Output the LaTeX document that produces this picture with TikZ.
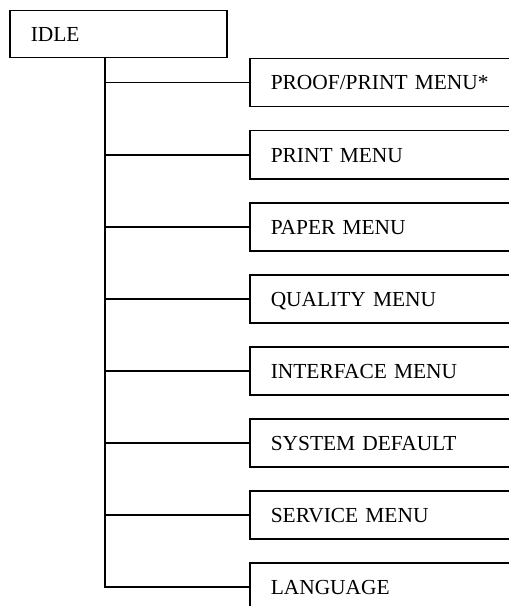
\documentclass[tikz,border=0pt]{standalone}
\usepackage{fontspec}
\setmainfont{Liberation Serif}
\usetikzlibrary{positioning}

\begin{document}
\begin{tikzpicture}[x=1bp, y=-1bp,
  menubox/.style={draw, line width=1.5bp, anchor=north west,
                  minimum height=48bp, text width=290bp, align=left,
                  inner xsep=21bp, text height=14.5bp, text depth=0pt,
                  font=\fontsize{21.5}{24}\selectfont},
  branch/.style={line width=1.5bp}
]
\useasboundingbox (0,0) rectangle (509,606);
\clip (0,0) rectangle (509,606);
\node[menubox, minimum height=47bp, text width=175bp] (idle) at (9,10) {IDLE};
\node[menubox] (m1) at (249,58)  {PROOF/PRINT MENU*};
\node[menubox] (m2) at (249,130) {PRINT MENU};
\node[menubox] (m3) at (249,202) {PAPER MENU};
\node[menubox] (m4) at (249,274) {QUALITY MENU};
\node[menubox] (m5) at (249,346) {INTERFACE MENU};
\node[menubox] (m6) at (249,418) {SYSTEM DEFAULT};
\node[menubox] (m7) at (249,490) {SERVICE MENU};
\node[menubox] (m8) at (249,562) {LANGUAGE};
\coordinate (root) at ([xshift=96bp]idle.south west);
\draw[branch] (root) |- (m8.west);
\draw[branch] (root |- m1.west) -- (m1.west);
\draw[branch] (root |- m2.west) -- (m2.west);
\draw[branch] (root |- m3.west) -- (m3.west);
\draw[branch] (root |- m4.west) -- (m4.west);
\draw[branch] (root |- m5.west) -- (m5.west);
\draw[branch] (root |- m6.west) -- (m6.west);
\draw[branch] (root |- m7.west) -- (m7.west);
\end{tikzpicture}
\end{document}
